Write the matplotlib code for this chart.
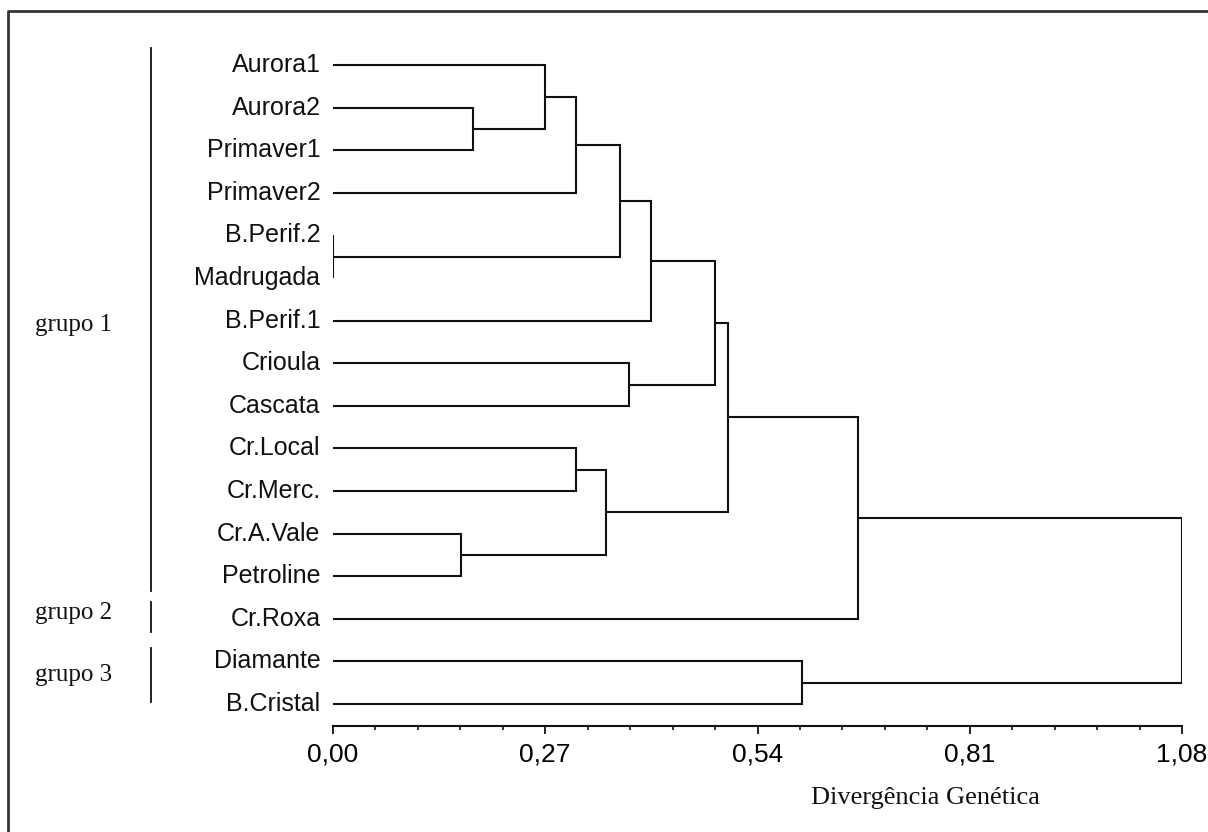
import matplotlib
matplotlib.use("Agg")
import matplotlib.pyplot as plt
from matplotlib.lines import Line2D

# ---- data ----
leaves = ["Aurora1", "Aurora2", "Primaver1", "Primaver2", "B.Perif.2", "Madrugada",
          "B.Perif.1", "Crioula", "Cascata", "Cr.Local", "Cr.Merc.", "Cr.A.Vale",
          "Petroline", "Cr.Roxa", "Diamante", "B.Cristal"]
# merges: (child_a, child_b, height); children are leaf names or earlier node ids "n0".."nk"
merge_a = ["Aurora2", "Aurora1", "n1", "B.Perif.2", "n2", "n4", "Crioula", "n5",
           "Cr.Local", "Cr.A.Vale", "n8", "n7", "n11", "Diamante", "n12"]
merge_b = ["Primaver1", "n0", "Primaver2", "Madrugada", "n3", "B.Perif.1", "Cascata", "n6",
           "Cr.Merc.", "Petroline", "n9", "n10", "Cr.Roxa", "B.Cristal", "n13"]
merge_h = [0.178, 0.270, 0.309, 0.0, 0.365, 0.405, 0.377, 0.486,
           0.309, 0.163, 0.347, 0.502, 0.668, 0.597, 1.08]
xticks = [0.00, 0.27, 0.54, 0.81, 1.08]
xtick_labels = ["0,00", "0,27", "0,54", "0,81", "1,08"]
groups = ["grupo 1", "grupo 2", "grupo 3"]
xlabel = "Divergência Genética"

W, H = 1208, 832
fig = plt.figure(figsize=(W / 100, H / 100), dpi=100)
fig.patch.set_facecolor("white")

n = len(leaves)
ax_left, ax_right = 333 / W, 1182 / W
ax_bot = 1 - 726 / H
ax_top = 1 - 43.7 / H
ax = fig.add_axes([ax_left, ax_bot, ax_right - ax_left, ax_top - ax_bot])
ax.set_xlim(0, 1.08)
ax.set_ylim(-0.516, n - 0.5)

lc = "#111111"
lw = 1.5
pos = {name: (0.0, n - 1 - i) for i, name in enumerate(leaves)}
for k, (a, b, h) in enumerate(zip(merge_a, merge_b, merge_h)):
    xa, ya = pos[a]
    xb, yb = pos[b]
    ax.plot([xa, h, h, xb], [ya, ya, yb, yb], color=lc, lw=lw,
            solid_joinstyle="miter", solid_capstyle="butt")
    pos["n%d" % k] = (h, (ya + yb) / 2)

for i, name in enumerate(leaves):
    ax.annotate(name, xy=(0, n - 1 - i), xytext=(-9, 0), textcoords="offset points",
                ha="right", va="center", fontsize=18, family="Liberation Sans",
                color="#111111")

for s in ["top", "right", "left"]:
    ax.spines[s].set_visible(False)
ax.spines["bottom"].set_linewidth(1.5)
ax.spines["bottom"].set_color(lc)
ax.set_yticks([])
ax.set_xticks(xticks)
ax.set_xticklabels(xtick_labels, fontsize=19, family="Liberation Sans")
ax.set_xticks([i * 0.054 for i in range(21)], minor=True)
ax.tick_params(axis="x", which="minor", direction="out", length=3, width=1.2, color=lc)
ax.tick_params(axis="x", which="major", direction="out", length=6, width=1.3,
               color=lc, pad=6)

fig.text(925 / W, 1 - 798 / H, xlabel, ha="center", va="center",
         fontsize=19, family="Liberation Serif", color="#111111")

# group bars and labels (figure pixel coordinates)
bars = [(48, 591), (602, 632), (648, 702)]
label_y = [325, 613, 675]
for g, (y0, y1), ly in zip(groups, bars, label_y):
    fig.add_artist(Line2D([151 / W, 151 / W], [1 - y0 / H, 1 - y1 / H],
                          transform=fig.transFigure, color=lc, lw=1.3))
    fig.text(35 / W, 1 - ly / H, g, ha="left", va="center", fontsize=18,
             family="Liberation Serif", color="#111111")

# frame
fig.add_artist(Line2D([8 / W, 8 / W, 1.0], [0.0, 1 - 11 / H, 1 - 11 / H],
                      transform=fig.transFigure, color="#333333", lw=2.0))

fig.savefig("out.png", dpi=100, facecolor="white")
